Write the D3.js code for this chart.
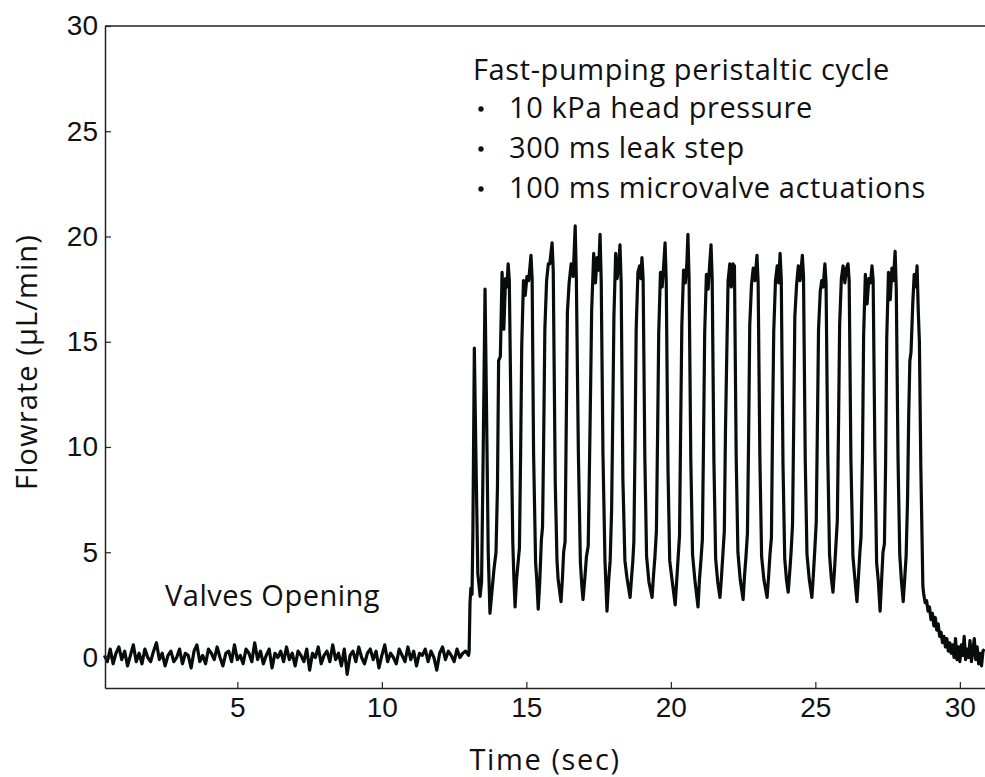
<!DOCTYPE html>
<html>
<head>
<meta charset="utf-8">
<script src="https://cdn.jsdelivr.net/npm/d3@7"></script>
<style>
  body { margin: 0; background: #fff; }
  text { fill: #111; }
</style>
</head>
<body>
<div id="app"></div>
<script>
// baseline noise before the valves open, sampled every 0.1 s from 0.4 s
const baseStart = 0.4;
const baseStep = 0.1;
const baseValues = [
  0.1,-0.2,0.4,-0.3,0.2,0.5,-0.1,0.3,-0.4,0.1,
  0.6,-0.2,0.2,-0.3,0.4,0.0,-0.2,0.3,0.7,-0.1,
  0.2,-0.4,0.1,0.3,-0.2,0.0,0.4,-0.3,0.2,0.1,
  -0.5,0.3,0.6,-0.2,0.1,-0.3,0.4,0.2,-0.1,0.5,
  0.0,-0.4,0.2,0.3,-0.2,0.6,-0.1,0.1,-0.3,0.4,
  0.2,-0.2,0.7,-0.1,0.3,-0.3,0.1,0.4,-0.5,0.2,
  0.0,0.3,-0.2,0.5,-0.1,0.2,-0.4,0.3,0.1,-0.2,
  0.4,-0.6,0.2,0.0,0.5,-0.3,0.1,0.3,-0.2,0.6,
  -0.1,0.2,-0.4,0.4,-0.8,0.1,0.3,-0.2,0.5,0.0,
  -0.3,0.2,0.4,-0.1,0.3,-0.5,0.1,0.6,-0.2,0.2,
  0.0,-0.3,0.4,0.1,-0.2,0.5,-0.1,0.3,-0.4,0.2,
  0.1,0.4,-0.2,0.3,0.0,-0.6,0.2,0.5,-0.1,0.3,
  0.1,-0.2,0.4,0.0,0.2,0.3,0.1
];

// pumping cycles: [time (s), flowrate]
const pumpPoints = [
  [13.02,0.3],[13.05,2.6],[13.08,3.3],[13.12,3.0],[13.15,6.0],[13.20,14.7],[13.25,10.0],[13.32,4.0],[13.40,2.9],
  [13.45,3.6],[13.50,9.0],[13.57,17.5],[13.62,12.0],[13.68,5.0],
  [13.74,2.1],[13.80,3.0],[13.88,4.2],[13.95,5.0],[14.00,8.1],[14.04,14.1],[14.10,14.3],[14.16,18.3],[14.22,15.6],[14.28,18.0],[14.33,17.6],[14.37,18.7],[14.41,17.9],[14.47,11.3],[14.53,5.5],[14.57,3.7],
  [14.61,2.4],[14.66,3.7],[14.70,4.3],[14.76,5.2],[14.80,9.5],[14.84,14.8],[14.90,17.9],[14.96,17.2],[15.02,18.1],[15.08,17.9],[15.16,19.1],[15.20,18.0],[15.25,9.7],[15.32,4.5],[15.36,3.7],
  [15.41,2.3],[15.46,3.5],[15.52,5.6],[15.56,6.2],[15.60,10.5],[15.64,15.6],[15.70,17.9],[15.76,18.7],[15.81,18.7],[15.89,19.7],[15.93,18.4],[16.00,8.3],[16.06,4.6],[16.10,3.7],
  [16.20,2.65],[16.25,3.8],[16.29,5.0],[16.34,5.5],[16.38,11.0],[16.42,16.4],[16.48,17.8],[16.55,18.7],[16.62,18.1],[16.69,20.5],[16.73,18.0],[16.80,9.7],[16.87,4.5],[16.92,3.4],
  [16.96,2.75],[17.02,3.7],[17.08,4.8],[17.14,5.3],[17.18,8.8],[17.22,12.5],[17.26,16.5],[17.33,19.2],[17.39,17.8],[17.45,19.0],[17.50,18.4],[17.55,20.1],[17.59,17.9],[17.65,9.7],[17.72,4.6],
  [17.79,2.2],[17.85,3.7],[17.90,4.6],[17.95,7.0],[17.99,11.5],[18.03,16.2],[18.09,19.2],[18.14,18.0],[18.19,18.6],[18.24,19.6],[18.28,17.8],[18.34,8.5],[18.41,4.6],[18.48,3.8],
  [18.59,2.85],[18.64,3.8],[18.68,4.5],[18.72,5.5],[18.76,10.0],[18.80,15.6],[18.86,18.3],[18.92,18.6],[18.96,18.0],[19.00,19.0],[19.04,18.0],[19.10,9.5],[19.16,4.8],[19.24,3.6],
  [19.35,2.85],[19.40,3.9],[19.45,4.8],[19.50,6.0],[19.54,10.5],[19.58,15.4],[19.64,18.3],[19.70,17.6],[19.75,18.6],[19.80,19.7],[19.84,17.9],[19.90,9.0],[19.96,4.6],[20.04,3.7],
  [20.15,2.5],[20.20,3.6],[20.25,4.7],[20.30,5.8],[20.34,11.0],[20.38,15.8],[20.44,18.4],[20.50,17.8],[20.55,18.6],[20.59,20.1],[20.63,18.0],[20.69,9.4],[20.75,4.9],[20.83,3.7],
  [20.94,2.4],[20.99,3.7],[21.04,4.6],[21.09,5.6],[21.13,10.2],[21.17,15.4],[21.23,18.2],[21.29,17.5],[21.34,18.6],[21.39,19.6],[21.43,18.0],[21.49,9.3],[21.55,4.7],[21.62,3.6],
  [21.70,2.85],[21.75,3.8],[21.80,4.9],[21.85,6.0],[21.89,10.8],[21.93,14.0],[21.98,17.9],[22.04,18.7],[22.09,17.6],[22.15,18.7],[22.20,18.6],[22.26,9.6],[22.32,5.0],[22.40,3.7],
  [22.50,2.75],[22.55,3.9],[22.60,4.8],[22.65,5.9],[22.69,10.4],[22.73,15.8],[22.79,17.7],[22.85,18.5],[22.91,17.9],[22.98,19.1],[23.02,17.8],[23.08,9.5],[23.14,4.8],[23.22,3.7],
  [23.33,2.85],[23.38,3.8],[23.43,4.9],[23.48,5.7],[23.52,11.2],[23.56,15.5],[23.62,17.9],[23.68,18.6],[23.73,17.8],[23.78,19.2],[23.82,18.0],[23.88,9.2],[23.94,4.7],[24.00,3.7],
  [24.06,3.1],[24.11,4.0],[24.16,5.0],[24.21,6.3],[24.25,11.0],[24.29,16.2],[24.35,17.7],[24.41,18.6],[24.47,17.9],[24.55,19.1],[24.59,18.1],[24.65,9.4],[24.71,4.9],[24.79,3.7],
  [24.88,2.85],[24.93,3.9],[24.98,5.1],[25.03,6.4],[25.07,10.9],[25.11,15.6],[25.17,17.4],[25.22,17.9],[25.27,17.6],[25.33,18.7],[25.37,17.8],[25.43,9.6],[25.49,4.9],[25.55,3.8],
  [25.61,3.1],[25.66,4.1],[25.71,5.3],[25.76,6.5],[25.80,10.8],[25.84,15.8],[25.90,18.0],[25.96,18.6],[26.02,17.8],[26.08,18.5],[26.13,18.7],[26.17,17.9],[26.23,9.4],[26.30,4.8],[26.37,3.7],
  [26.44,2.65],[26.49,3.8],[26.54,5.0],[26.58,5.7],[26.63,9.5],[26.67,15.3],[26.73,18.2],[26.79,16.8],[26.85,18.0],[26.91,17.8],[26.96,18.6],[27.00,17.9],[27.06,9.8],[27.12,4.5],[27.18,3.6],
  [27.24,2.2],[27.29,3.6],[27.34,5.0],[27.39,5.4],[27.43,9.1],[27.47,15.2],[27.53,18.3],[27.59,17.0],[27.65,18.5],[27.70,17.9],[27.76,19.3],[27.80,17.5],[27.86,9.5],[27.92,4.9],[27.98,3.6],
  [28.04,2.65],[28.09,3.7],[28.14,4.8],[28.19,7.5],[28.23,11.5],[28.27,14.1],[28.31,14.5],[28.37,16.8],[28.42,18.2],[28.47,17.6],[28.52,18.6],[28.56,16.5],[28.60,15.0],[28.65,9.0],[28.72,3.4]
];

// decay after pumping stops, sampled every 0.05 s from 28.75 s
const tailStart = 28.75;
const tailStep = 0.05;
const tailValues = [
  3.0,2.6,2.7,2.2,2.4,1.8,2.1,1.5,1.9,1.3,
  1.6,1.0,1.2,0.7,1.0,0.5,0.9,0.3,0.7,0.2,
  0.6,0.0,0.9,-0.1,0.5,-0.2,0.6,0.1,1.0,-0.1,
  0.4,0.0,0.8,-0.2,0.3,0.9,-0.1,0.5,-0.3,0.2,
  -0.4,0.3,0.4
];

const yTicks = [0, 5, 10, 15, 20, 25, 30];
const xTicks = [5, 10, 15, 20, 25, 30];
const noteLines = ["10 kPa head pressure", "300 ms leak step", "100 ms microvalve actuations"];

const w = 985, h = 777;
const m = { left: 105, right: 985, top: 26, bottom: 688 };

const data = [];
baseValues.forEach((v, i) => data.push([baseStart + i * baseStep, v]));
pumpPoints.forEach(p => data.push(p));
tailValues.forEach((v, i) => data.push([tailStart + i * tailStep, v]));

const svg = d3.select("#app").append("svg")
  .attr("width", w)
  .attr("height", h);

const x = d3.scaleLinear().domain([0.42, 30.87]).range([m.left, m.right]);
const y = d3.scaleLinear().domain([-1.45, 30]).range([m.bottom, m.top]);

const line = d3.line().x(d => x(d[0])).y(d => y(d[1]));

svg.append("path")
  .datum(data)
  .attr("fill", "none")
  .attr("stroke", "#0a0c0c")
  .attr("stroke-width", 3.2)
  .attr("stroke-linejoin", "round")
  .attr("d", line);

// frame: top line
svg.append("line")
  .attr("x1", m.left).attr("x2", m.right)
  .attr("y1", m.top).attr("y2", m.top)
  .attr("stroke", "#222").attr("stroke-width", 1.5);

const xAxis = svg.append("g")
  .attr("transform", "translate(0," + m.bottom + ")")
  .call(d3.axisBottom(x).tickValues(xTicks).tickSize(-6).tickSizeOuter(0).tickPadding(9));

const yAxis = svg.append("g")
  .attr("transform", "translate(" + m.left + ",0)")
  .call(d3.axisLeft(y).tickValues(yTicks).tickSize(-6).tickSizeOuter(0).tickPadding(7));

[xAxis, yAxis].forEach(g => {
  g.select(".domain").attr("stroke", "#222").attr("stroke-width", 1.5);
  g.selectAll(".tick line").attr("stroke", "#222").attr("stroke-width", 1.2);
  g.selectAll("text")
    .style("font-family", "'Liberation Sans', Arial, sans-serif")
    .style("font-size", "28px")
    .attr("fill", "#111");
});

const labelFont = "'Open Sans', 'Noto Sans', sans-serif";

function label(sel, spacing) {
  return sel.style("font-family", labelFont)
    .style("font-size", "29px")
    .style("letter-spacing", spacing + "px");
}

label(svg.append("text")
  .attr("transform", "translate(37," + 362 + ") rotate(-90)")
  .attr("text-anchor", "middle"), 1.1)
  .text("Flowrate (\u00b5L/min)");

label(svg.append("text")
  .attr("x", 545).attr("y", 770)
  .attr("text-anchor", "middle"), 1.6)
  .text("Time (sec)");

label(svg.append("text")
  .attr("x", 165).attr("y", 606), 0.5)
  .text("Valves Opening");

label(svg.append("text")
  .attr("x", 473).attr("y", 80), 0.6)
  .text("Fast-pumping peristaltic cycle");

noteLines.forEach((t, i) => {
  const yy = 118 + i * 40;
  svg.append("circle")
    .attr("cx", 481).attr("cy", yy - 9).attr("r", 2.7)
    .attr("fill", "#111");
  label(svg.append("text")
    .attr("x", 509).attr("y", yy), 0.6)
    .text(t);
});
</script>
</body>
</html>
